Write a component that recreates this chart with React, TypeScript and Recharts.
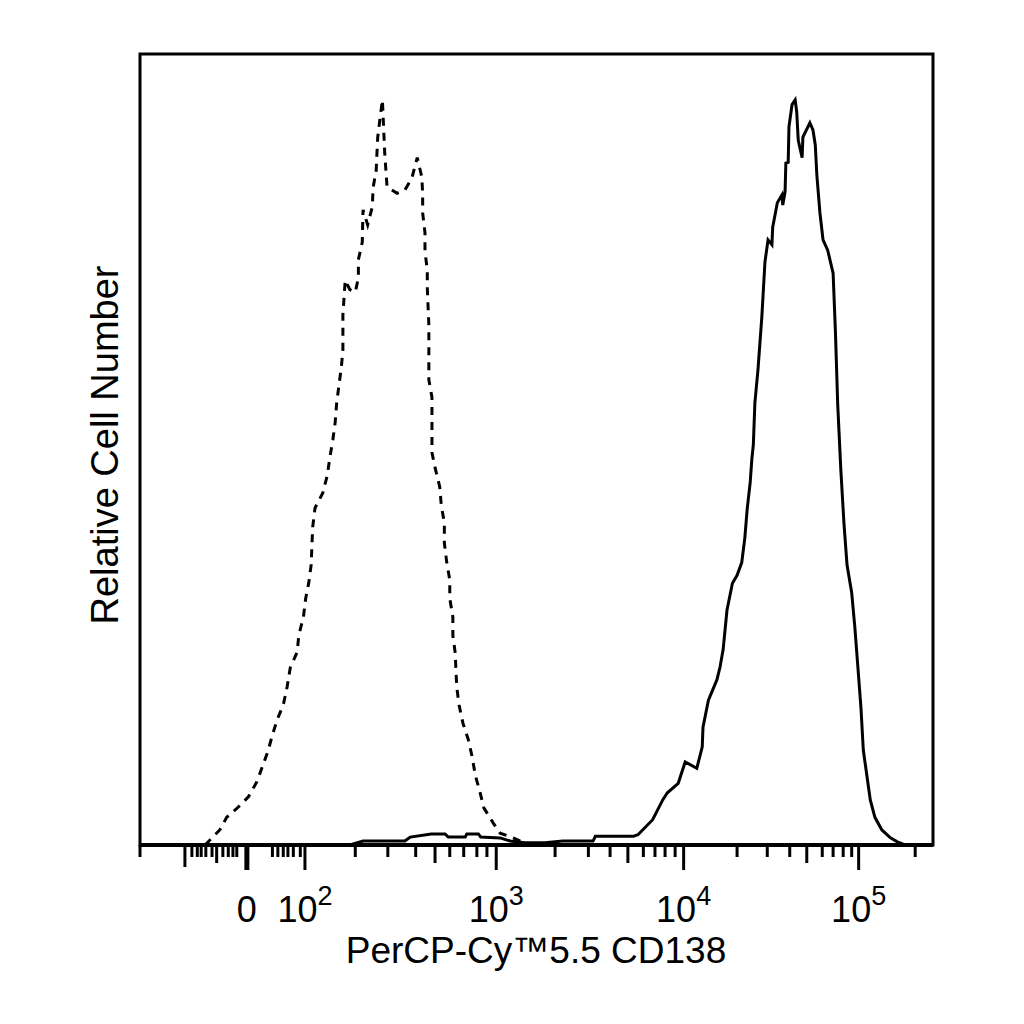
import { LineChart, Line, XAxis, YAxis, ReferenceArea } from 'recharts';

const FONT = '"Liberation Sans", Arial, sans-serif';

// x values are display channels (0-1024) on the biexponential axis, y is relative count
const isotypeChannel = [84, 90, 103, 112, 127, 140, 151, 158, 165, 171, 177, 185, 190, 194, 203, 205, 211, 214, 218, 221, 222, 223, 226, 236, 242, 245, 249, 252, 254, 257, 260, 262, 262, 265, 271, 278, 282, 282, 287, 288, 294, 300, 301, 305, 306, 307, 310, 313, 316, 319, 332, 342, 351, 358, 364, 365, 365, 368, 368, 371, 371, 372, 373, 373, 373, 377, 377, 381, 387, 389, 393, 393, 396, 400, 400, 404, 404, 407, 408, 409, 412, 417, 424, 429, 433, 439, 444, 456, 465, 482, 495, 510, 1024];
const isotypeCount = [0, 0.6, 1.9, 3.5, 4.8, 6.1, 8.0, 9.9, 11.8, 13.9, 15.8, 17.7, 20.0, 22.4, 24.4, 26.5, 28.8, 31.2, 33.2, 35.4, 37.9, 40.2, 42.6, 44.5, 46.8, 48.9, 51.2, 53.4, 55.9, 58.2, 60.4, 62.6, 67.0, 71.4, 70.2, 69.9, 71.7, 74.0, 76.2, 80.3, 78.4, 80.7, 83.1, 85.3, 87.5, 89.5, 91.9, 94.2, 87.5, 83.2, 82.4, 82.8, 84.3, 86.9, 84.4, 82.2, 79.9, 77.4, 75.0, 72.7, 70.5, 68.0, 65.7, 61.1, 58.8, 56.6, 49.6, 47.7, 45.3, 43.0, 40.7, 38.2, 35.8, 33.5, 31.2, 28.8, 26.5, 24.3, 22.1, 20.0, 17.7, 15.4, 13.3, 11.1, 8.8, 6.7, 4.7, 2.8, 1.5, 0.9, 0.3, 0, 0];

const cd138Channel = [0, 271, 288, 342, 349, 376, 394, 398, 420, 422, 437, 440, 465, 478, 497, 523, 546, 585, 588, 637, 643, 662, 675, 681, 695, 704, 719, 726, 727, 734, 745, 749, 753, 758, 765, 771, 777, 781, 784, 788, 790, 792, 794, 798, 803, 807, 811, 816, 817, 823, 829, 830, 833, 834, 837, 838, 842, 846, 848, 850, 855, 856, 865, 869, 872, 874, 878, 882, 888, 895, 898, 901, 905, 909, 913, 919, 923, 927, 931, 934, 939, 943, 949, 958, 969, 978, 988, 1024];
const cd138Count = [0, 0, 0.5, 0.5, 1.0, 1.4, 1.4, 1.0, 1.0, 1.4, 1.4, 1.0, 0.9, 0.5, 0.3, 0.3, 0.5, 0.5, 1.1, 1.1, 1.3, 3.2, 5.7, 6.6, 7.8, 10.5, 9.7, 12.4, 14.9, 18.3, 20.9, 22.5, 24.7, 29.7, 33.1, 34.1, 35.7, 38.8, 42.4, 45.9, 48.7, 50.6, 55.9, 60.1, 66.8, 73.7, 76.5, 75.9, 78.1, 81.2, 82.2, 80.9, 82.6, 86.2, 86.3, 90.8, 93.6, 94.2, 92.7, 89.1, 86.9, 89.5, 91.3, 90.4, 88.5, 84.7, 79.9, 76.5, 75.2, 72.3, 64.9, 55.6, 47.4, 40.7, 35.4, 31.9, 27.6, 22.5, 17.3, 12.0, 8.5, 5.7, 3.5, 1.9, 0.9, 0.4, 0, 0];

// axis ticks (channels) and labels
const majorTicks = [58, 138, 213, 460, 702, 928];
const majorLabels = ['', '0', '10^2', '10^3', '10^4', '10^5'];
const mediumTicks = [99, 381, 630, 861];
const minorTicks = [0, 67, 74, 79, 85, 93, 107, 114, 120, 125, 171, 178, 185, 191, 198, 207, 278, 320, 356, 400, 418, 435, 448, 536, 579, 607, 650, 665, 678, 691, 771, 810, 839, 881, 895, 908, 919, 1001];
const allTicks = [...minorTicks, ...mediumTicks, ...majorTicks].sort((a, b) => a - b);

const isotypeData = isotypeChannel.map((x, i) => ({ x, y: isotypeCount[i] }));
const cd138Data = cd138Channel.map((x, i) => ({ x, y: cd138Count[i] }));

function AxisTick(props: any) {
  const { x, y, payload } = props;
  const v = payload.value;
  const mi = majorTicks.indexOf(v);
  let len = 12;
  let w = 3;
  if (mi >= 0) {
    len = v === 58 ? 22 : 25;
    w = v === 138 ? 5 : 3;
  } else if (mediumTicks.includes(v)) {
    len = 18;
  }
  const label = mi >= 0 ? majorLabels[mi] : '';
  let text = null;
  if (label) {
    const [base, exp] = label.split('^');
    text = (
      <text x={x} y={y + 77} textAnchor="middle" fontSize={36} fontFamily={FONT} fill="#000">
        {base}
        {exp && <tspan dy={-17} fontSize={27}>{exp}</tspan>}
      </text>
    );
  }
  return (
    <g>
      <line x1={x} x2={x} y1={y} y2={y + len} stroke="#000" strokeWidth={w} />
      {text}
    </g>
  );
}

export default function App() {
  return (
    <div style={{ width: 1000, height: 1000, background: '#fff' }}>
      <LineChart width={1000} height={1000} margin={{ top: 46, right: 75, bottom: 0, left: 132 }}>
        <XAxis
          type="number"
          dataKey="x"
          domain={[0, 1024]}
          ticks={allTicks}
          interval={0}
          height={163}
          tickSize={0}
          tickMargin={0}
          tickLine={false}
          axisLine={{ stroke: '#000', strokeWidth: 4 }}
          tick={(p: any) => <AxisTick {...p} />}
          allowDataOverflow
        />
        <YAxis hide type="number" domain={[0, 100]} allowDataOverflow />
        <ReferenceArea x1={0} x2={1024} y1={0} y2={100} fill="none" stroke="#000" strokeWidth={3} fillOpacity={0} />
        <Line
          data={isotypeData}
          dataKey="y"
          type="linear"
          stroke="#000"
          strokeWidth={3}
          strokeDasharray="8 7"
          dot={false}
          isAnimationActive={false}
        />
        <Line
          data={cd138Data}
          dataKey="y"
          type="linear"
          stroke="#000"
          strokeWidth={3}
          dot={false}
          isAnimationActive={false}
        />
        <text x={528} y={955} textAnchor="middle" fontSize={37} fontFamily={FONT} fill="#000">
          PerCP-Cy™5.5 CD138
        </text>
        <text
          x={110}
          y={437}
          textAnchor="middle"
          fontSize={38}
          fontFamily={FONT}
          fill="#000"
          transform="rotate(-90 110 437)"
        >
          Relative Cell Number
        </text>
      </LineChart>
    </div>
  );
}
